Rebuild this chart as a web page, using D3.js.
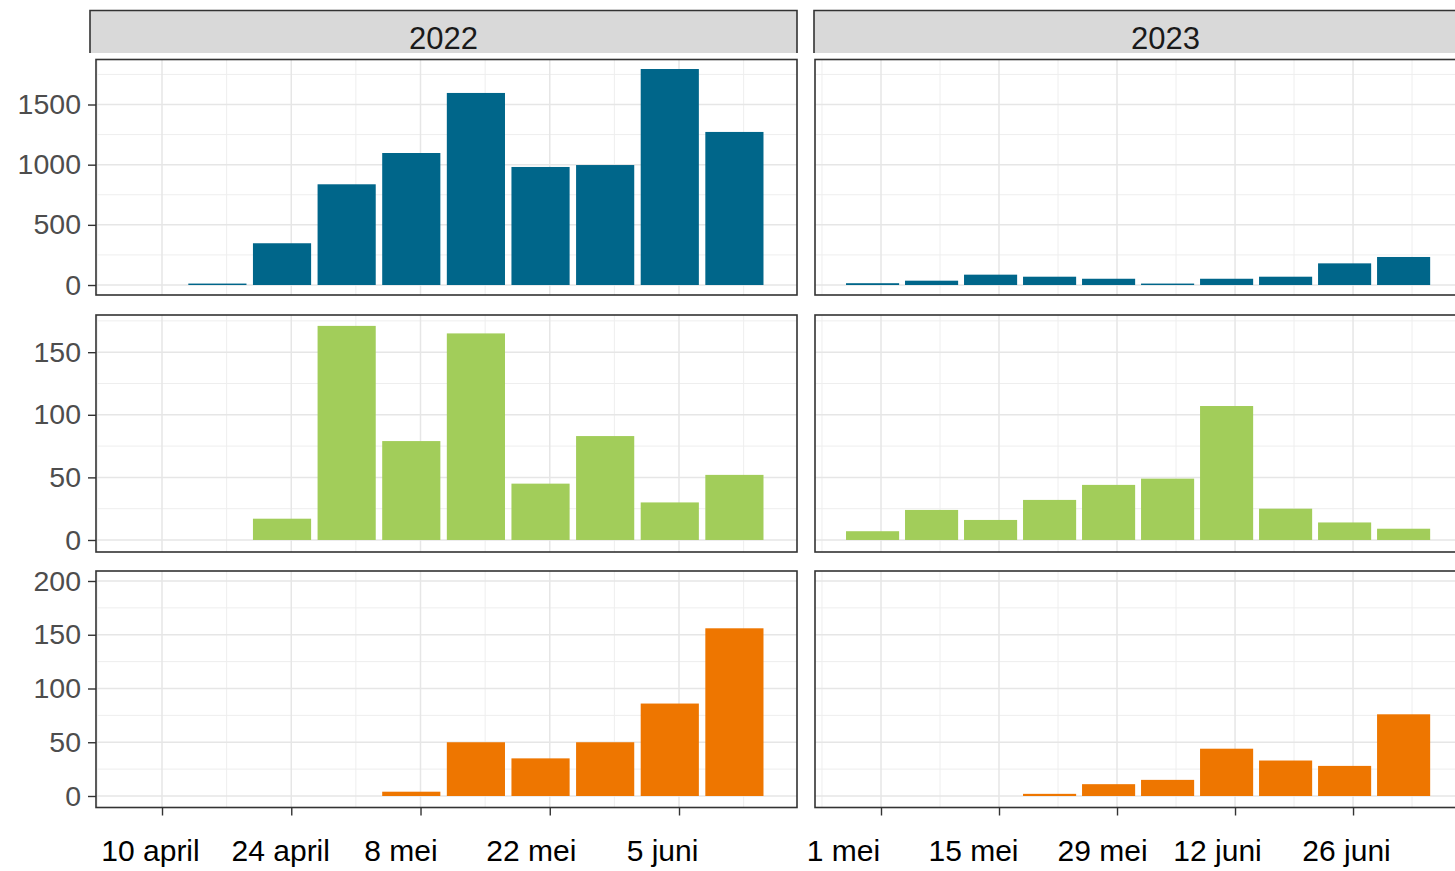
<!DOCTYPE html>
<html>
<head>
<meta charset="utf-8">
<script src="https://cdn.jsdelivr.net/npm/d3@7"></script>
<style>
  html, body { margin: 0; padding: 0; background: #ffffff; }
  svg { display: block; }
</style>
</head>
<body>
<svg id="chart" width="1455" height="871"></svg>
<script>
// Weekly counts, one bar per week (bar centred on the week date)
const years = ["2022", "2023"];
const weeks2022 = ["2022-04-16", "2022-04-23", "2022-04-30", "2022-05-07", "2022-05-14",
                   "2022-05-21", "2022-05-28", "2022-06-04", "2022-06-11"];
const weeks2023 = ["2023-04-30", "2023-05-07", "2023-05-14", "2023-05-21", "2023-05-28",
                   "2023-06-04", "2023-06-11", "2023-06-18", "2023-06-25", "2023-07-02"];

const blue2022   = [12, 347, 837, 1097, 1596, 981, 997, 1795, 1272];
const blue2023   = [15, 36, 86, 69, 52, 12, 52, 69, 180, 233];
const green2022  = [0, 17, 171, 79, 165, 45, 83, 30, 52];
const green2023  = [7, 24, 16, 32, 44, 49, 107, 25, 14, 9];
const orange2022 = [0, 0, 0, 4, 50, 35, 50, 86, 156];
const orange2023 = [0, 0, 0, 2, 11, 15, 44, 33, 28, 76];

const yTicksRow1 = [0, 500, 1000, 1500];
const yTicksRow2 = [0, 50, 100, 150];
const yTicksRow3 = [0, 50, 100, 150, 200];

const xTicks2022 = ["2022-04-10", "2022-04-24", "2022-05-08", "2022-05-22", "2022-06-05"];
const xLabels2022 = ["10 april", "24 april", "8 mei", "22 mei", "5 juni"];
const xTicks2023 = ["2023-05-01", "2023-05-15", "2023-05-29", "2023-06-12", "2023-06-26"];
const xLabels2023 = ["1 mei", "15 mei", "29 mei", "12 juni", "26 juni"];

// ---- layout ----
const rowColors = ["#00668A", "#A2CD5A", "#EE7600"];
const rows = [
  { top: 59.5, bottom: 295,   domain: [-83, 1874],   ticks: yTicksRow1, minor: [250, 750, 1250, 1750],
    series: [blue2022, blue2023] },
  { top: 315,  bottom: 552,   domain: [-9.6, 179.7], ticks: yTicksRow2, minor: [25, 75, 125, 175],
    series: [green2022, green2023] },
  { top: 571,  bottom: 807.5, domain: [-10.7, 209.3], ticks: yTicksRow3, minor: [25, 75, 125, 175],
    series: [orange2022, orange2023] }
];
// nudges for the hand-placed date labels under the bottom row
const labelNudge = [[-12, -11, -20, -19, -17], [-38, -26, -15, -18, -7]];

const parse = d3.utcParse("%Y-%m-%d");
const DAY = 864e5;

const cols = [
  { left: 96,  right: 797,
    domain: [Date.UTC(2022, 3, 2, 20, 24), Date.UTC(2022, 5, 17, 18, 43)],
    weeks: weeks2022, ticks: xTicks2022, labels: xLabels2022,
    strip: [90, 797] },
  { left: 815, right: 1516,
    domain: [Date.UTC(2023, 3, 23, 4, 5), Date.UTC(2023, 6, 15, 8, 0)],
    weeks: weeks2023, ticks: xTicks2023, labels: xLabels2023,
    strip: [814, 1517] }
];

const svg = d3.select("#chart");
svg.append("rect").attr("width", 1455).attr("height", 871).attr("fill", "#ffffff");

const gridMajor = "#E6E6E6";
const gridMinor = "#EEEEEE";
const frameColor = "#333333";
const font = "Liberation Sans, Arial, sans-serif";

cols.forEach((col, ci) => {
  const x = d3.scaleUtc().domain(col.domain.map(d => new Date(d))).range([col.left, col.right]);
  const majorDates = col.ticks.map(parse);

  // major breaks every 14 days, minor breaks halfway between them
  const majorAll = [];
  {
    let m = +majorDates[0];
    while (m - 14 * DAY > col.domain[0]) m -= 14 * DAY;
    for (let t = m; t < col.domain[1]; t += 14 * DAY) majorAll.push(new Date(t));
  }
  const minorAll = [];
  {
    let m = +majorAll[0] - 7 * DAY;
    for (let t = m; t < col.domain[1]; t += 14 * DAY) if (t > col.domain[0]) minorAll.push(new Date(t));
  }

  // facet strip
  const sg = svg.append("g");
  sg.append("rect")
    .attr("x", col.strip[0]).attr("y", 10)
    .attr("width", col.strip[1] - col.strip[0]).attr("height", 43)
    .attr("fill", "#D9D9D9");
  sg.append("path")
    .attr("d", `M${col.strip[0]},53 V10.5 H${col.strip[1]} V53`)
    .attr("fill", "none").attr("stroke", frameColor).attr("stroke-width", 1.6);
  sg.append("text")
    .attr("x", (col.strip[0] + col.strip[1]) / 2).attr("y", 49)
    .attr("text-anchor", "middle")
    .attr("font-family", font)
    .attr("font-size", 31).attr("fill", "#1A1A1A")
    .text(years[ci]);

  rows.forEach((row, ri) => {
    const y = d3.scaleLinear().domain(row.domain).range([row.bottom, row.top]);
    const g = svg.append("g");
    const clipId = `clip-${ci}-${ri}`;
    g.append("clipPath").attr("id", clipId).append("rect")
      .attr("x", col.left).attr("y", row.top)
      .attr("width", col.right - col.left).attr("height", row.bottom - row.top);

    const grid = g.append("g").attr("clip-path", `url(#${clipId})`);
    // minor grid
    grid.selectAll(".ymin").data(row.minor).join("line")
      .attr("x1", col.left).attr("x2", col.right)
      .attr("y1", d => y(d)).attr("y2", d => y(d))
      .attr("stroke", gridMinor).attr("stroke-width", 1);
    grid.selectAll(".xmin").data(minorAll).join("line")
      .attr("y1", row.top).attr("y2", row.bottom)
      .attr("x1", d => x(d)).attr("x2", d => x(d))
      .attr("stroke", gridMinor).attr("stroke-width", 1);
    // major grid
    grid.selectAll(".ymaj").data(row.ticks).join("line")
      .attr("x1", col.left).attr("x2", col.right)
      .attr("y1", d => y(d)).attr("y2", d => y(d))
      .attr("stroke", gridMajor).attr("stroke-width", 1.5);
    grid.selectAll(".xmaj").data(majorAll).join("line")
      .attr("y1", row.top).attr("y2", row.bottom)
      .attr("x1", d => x(d)).attr("x2", d => x(d))
      .attr("stroke", gridMajor).attr("stroke-width", 1.5);

    // bars
    const values = row.series[ci];
    const bars = col.weeks.map((w, i) => ({ date: parse(w), value: values[i] }))
      .filter(d => d.value > 0);
    grid.selectAll(".bar").data(bars).join("rect")
      .attr("x", d => x(new Date(+d.date - 3.15 * DAY)))
      .attr("width", d => x(new Date(+d.date + 3.15 * DAY)) - x(new Date(+d.date - 3.15 * DAY)))
      .attr("y", d => y(d.value))
      .attr("height", d => y(0) - y(d.value))
      .attr("fill", rowColors[ri]);

    // panel frame
    g.append("rect")
      .attr("x", col.left).attr("y", row.top)
      .attr("width", col.right - col.left).attr("height", row.bottom - row.top)
      .attr("fill", "none").attr("stroke", frameColor).attr("stroke-width", 1.6);

    // y axis on the left column only
    if (ci === 0) {
      const ay = g.append("g").attr("transform", `translate(${col.left},0)`)
        .call(d3.axisLeft(y).tickValues(row.ticks).tickSize(8).tickPadding(7).tickFormat(d3.format("d")));
      ay.select(".domain").remove();
      ay.selectAll(".tick line").attr("stroke", frameColor).attr("stroke-width", 1.4);
      ay.selectAll(".tick text")
        .attr("font-family", font)
        .attr("font-size", 28.5).attr("fill", "#4D4D4D");
    }

    // x axis on the bottom row only
    if (ri === rows.length - 1) {
      const ax = g.append("g").attr("transform", `translate(0,${row.bottom})`)
        .call(d3.axisBottom(x).tickValues(majorDates).tickSize(8)
          .tickFormat((d, i) => col.labels[i]));
      ax.select(".domain").remove();
      ax.selectAll(".tick line").attr("stroke", frameColor).attr("stroke-width", 1.4);
      ax.selectAll(".tick text")
        .attr("y", 0).attr("dy", 0)
        .attr("transform", (d, i) => `translate(${labelNudge[ci][i]},${861 - row.bottom})`)
        .attr("font-family", font)
        .attr("font-size", 30).attr("fill", "#000000");
    }
  });
});
</script>
</body>
</html>
